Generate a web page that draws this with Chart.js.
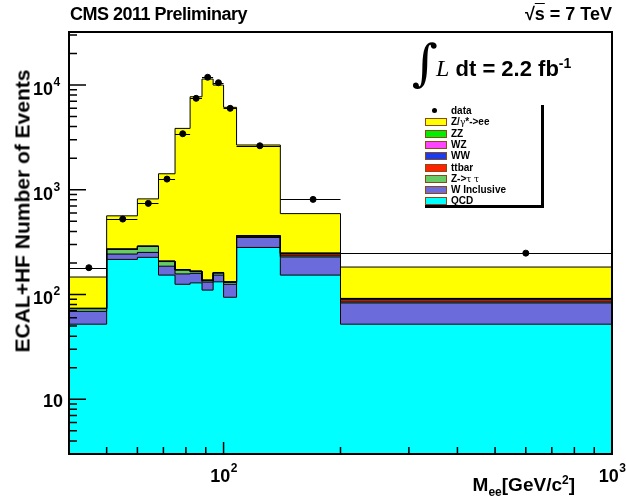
<!DOCTYPE html>
<html>
<head>
<meta charset="utf-8">
<script src="https://cdn.jsdelivr.net/npm/chart.js@4.4.0/dist/chart.umd.min.js"></script>
<style>
  body { margin: 0; background: #fff; }
  #wrap { position: relative; width: 626px; height: 500px; font-family: "Liberation Sans", Arial, Helvetica, sans-serif; font-weight: bold; color: #000; }
  #wrap canvas { position: absolute; left: 0; top: 0; }
  .txt { position: absolute; white-space: nowrap; line-height: 1; }
  #legend { position: absolute; left: 425px; top: 105px; width: 116px; height: 100px; border-right: 3px solid #000; border-bottom: 3px solid #000; background: #fff; }
  .row { position: absolute; left: 0; width: 116px; height: 11px; font-size: 10px; line-height: 11px; white-space: nowrap; }
  .sw { position: absolute; left: 0; top: 2px; width: 20px; height: 6px; border: 1px solid #8a4a14; }
  .lbl { position: absolute; left: 26px; top: 0; white-space: nowrap; }
  .gr { font-family: "DejaVu Serif", "Liberation Serif", serif; font-weight: normal; font-size: 9px; }
</style>
</head>
<body>
<div id="wrap">
  <canvas id="c" width="626" height="500"></canvas>
  <div class="txt" style="left:70px; top:5px; font-size:18px; letter-spacing:-0.5px;">CMS 2011 Preliminary</div>
  <div class="txt" style="right:14px; top:5px; font-size:18px;">&radic;<span style="text-decoration:overline">s</span> = 7 TeV</div>
  <div class="txt" style="left:22px; top:211px; font-size:21px; transform:translate(-50%,-50%) rotate(-90deg);">ECAL+HF Number of Events</div>
  <div class="txt" style="right:51px; top:474px; font-size:19px;">M<sub style="font-size:12px;">ee</sub>[GeV/c<sup style="font-size:12px;">2</sup>]</div>
  <div class="txt" style="left:412px; top:38px;">
    <span style="font-family:'DejaVu Serif','Liberation Serif',serif; font-weight:normal; font-size:50px;">&int;</span><span style="font-family:'Liberation Serif',serif; font-style:italic; font-weight:normal; font-size:24px; position:relative; top:-4px; margin-left:-2px;">L</span><span style="font-size:22px; position:relative; top:-4px;"> dt = 2.2 fb<sup style="font-size:14px;">-1</sup></span>
  </div>
  <div id="legend"></div>
</div>
<script>
// bin edges in GeV (M_ee)
const binEdges = [40, 50, 60, 68, 75, 82, 88, 94, 100, 108, 140, 200, 1000];
// observed events per bin
const dataCounts = [180, 524, 740, 1262, 3420, 7450, 11830, 10500, 5980, 2626, 808, 248];
// MC backgrounds, bottom of stack first
const qcd = [52, 216, 226, 153, 125, 129, 110, 132, 94, 281, 153, 52];
const wInclusive = [17, 27, 26, 33, 32, 30, 21, 21, 31, 69, 75, 31];
const zTauTau = [4, 26, 35, 20, 14, 6, 4, 7, 5, 5, 6, 2];
const ttbar = [0.4, 1, 1, 1, 1, 1, 1, 1, 1, 6, 10, 4];
const ww = [0.2, 0.5, 0.5, 0.4, 0.4, 0.4, 0.4, 0.4, 0.4, 2, 3, 2];
const wz = [0.05, 0.2, 0.2, 0.2, 0.2, 0.3, 0.4, 0.3, 0.2, 0.5, 0.6, 0.4];
const zz = [0.05, 0.2, 0.2, 0.2, 0.3, 0.4, 0.5, 0.4, 0.3, 0.5, 0.5, 0.3];
const zee = [73, 292, 528, 1211, 3673, 7543, 11243, 9808, 5978, 2307, 343, 91];

// axis tick labels
const xTickValues = [100, 1000];
const xTickExp = ['2', '3'];
const yTickValues = [10, 100, 1000, 10000];
const yTickExp = ['', '2', '3', '4'];

const stack = [
    { name: 'QCD', values: qcd, color: '#00ffff' },
    { name: 'W Inclusive', values: wInclusive, color: '#6b6bdb' },
    { name: 'Z->\u03c4 \u03c4', values: zTauTau, color: '#66cc66' },
    { name: 'ttbar', values: ttbar, color: '#ff2200' },
    { name: 'WW', values: ww, color: '#1a3cf0' },
    { name: 'WZ', values: wz, color: '#ff44ff' },
    { name: 'ZZ', values: zz, color: '#00ee00' },
    { name: 'Z/\u03b3*->ee', values: zee, color: '#ffff00' }
];

// cumulative sums -> stepped outlines (one extra point closes the last bin)
const running = new Array(dataCounts.length).fill(0);
const stackSets = stack.map((s, k) => {
    const pts = [];
    s.values.forEach((v, i) => {
        running[i] += v;
        pts.push({ x: binEdges[i], y: running[i] });
    });
    pts.push({ x: binEdges[binEdges.length - 1], y: running[running.length - 1] });
    return {
        label: s.name,
        data: pts,
        stepped: 'before',
        borderColor: '#000',
        borderWidth: 1,
        backgroundColor: s.color,
        pointRadius: 0,
        fill: k === 0 ? 'start' : '-1'
    };
});

const dataPoints = dataCounts.map((v, i) => ({ x: (binEdges[i] + binEdges[i + 1]) / 2, y: v }));

const FONT = '"Liberation Sans", Arial, Helvetica, sans-serif';

const rootAxes = {
    id: 'rootAxes',
    afterDatasetsDraw(chart) {
        const { ctx, chartArea: a, scales: { x, y } } = chart;
        ctx.save();

        // horizontal bin-width bars on the data
        ctx.strokeStyle = '#000';
        ctx.lineWidth = 1;
        dataCounts.forEach((v, i) => {
            const py = Math.round(y.getPixelForValue(v)) + 0.5;
            ctx.beginPath();
            ctx.moveTo(x.getPixelForValue(binEdges[i]), py);
            ctx.lineTo(x.getPixelForValue(binEdges[i + 1]), py);
            ctx.stroke();
        });

        // inward ticks
        ctx.lineWidth = 1.5;
        ctx.beginPath();
        for (let e = 0; e <= 4; e++) {
            for (let k = 1; k <= 9; k++) {
                const v = k * Math.pow(10, e);
                if (v < y.min || v > y.max) continue;
                const py = y.getPixelForValue(v);
                ctx.moveTo(a.left, py);
                ctx.lineTo(a.left + (k === 1 ? 17 : 8), py);
            }
        }
        for (let e = 1; e <= 3; e++) {
            for (let k = 1; k <= 9; k++) {
                const v = k * Math.pow(10, e);
                if (v < x.min || v > x.max) continue;
                const px = x.getPixelForValue(v);
                ctx.moveTo(px, a.bottom);
                ctx.lineTo(px, a.bottom - (k === 1 ? 12 : 7));
            }
        }
        ctx.stroke();

        // frame
        ctx.lineWidth = 2;
        ctx.strokeRect(a.left, a.top, a.right - a.left, a.bottom - a.top);

        // tick labels
        ctx.fillStyle = '#000';
        ctx.textBaseline = 'alphabetic';
        yTickValues.forEach((v, i) => {
            const py = y.getPixelForValue(v);
            ctx.font = 'bold 18px ' + FONT;
            if (yTickExp[i] === '') {
                ctx.textAlign = 'right';
                ctx.fillText('10', a.left - 6, py + 7.5);
            } else {
                ctx.textAlign = 'right';
                ctx.fillText('10', a.left - 16, py + 10);
                ctx.font = 'bold 12px ' + FONT;
                ctx.textAlign = 'left';
                ctx.fillText(yTickExp[i], a.left - 15.5, py + 1);
            }
        });
        xTickValues.forEach((v, i) => {
            const px = x.getPixelForValue(v);
            ctx.font = 'bold 18px ' + FONT;
            const wb = ctx.measureText('10').width;
            ctx.font = 'bold 12px ' + FONT;
            const ws = ctx.measureText(xTickExp[i]).width;
            const x0 = px - (wb + ws) / 2;
            ctx.textAlign = 'left';
            ctx.font = 'bold 18px ' + FONT;
            ctx.fillText('10', x0, a.bottom + 28);
            ctx.font = 'bold 12px ' + FONT;
            ctx.fillText(xTickExp[i], x0 + wb + 0.5, a.bottom + 18);
        });
        ctx.restore();
    }
};

new Chart(document.getElementById('c'), {
    type: 'line',
    data: {
        datasets: [{
            type: 'scatter',
            label: 'data',
            data: dataPoints,
            pointRadius: 3,
            pointBackgroundColor: '#000',
            pointBorderColor: '#000',
            showLine: false
        }].concat(stackSets)
    },
    options: {
        responsive: false,
        animation: false,
        layout: { padding: { left: 69, right: 14, top: 32, bottom: 46 } },
        scales: {
            x: { type: 'logarithmic', min: 40, max: 1000, display: false },
            y: { type: 'logarithmic', min: 3, max: 32000, display: false }
        },
        plugins: {
            legend: { display: false },
            tooltip: { enabled: false },
            filler: { drawTime: 'beforeDatasetsDraw' }
        }
    },
    plugins: [rootAxes]
});

// legend box, top entry first like the ROOT TLegend
const legend = document.getElementById('legend');
const entries = [{ name: 'data', color: null }].concat(stack.slice().reverse());
entries.forEach((en, i) => {
    const row = document.createElement('div');
    row.className = 'row';
    row.style.top = (i * 11.3) + 'px';
    let mark;
    if (en.color) {
        mark = '<div class="sw" style="background:' + en.color + '"></div>';
    } else {
        mark = '<div style="position:absolute;left:7px;top:3px;width:5px;height:5px;border-radius:50%;background:#000"></div>';
    }
    const label = en.name.replace(/([\u03b3\u03c4])/g, '<span class="gr">$1</span>');
    row.innerHTML = mark + '<div class="lbl">' + label + '</div>';
    legend.appendChild(row);
});
</script>
</body>
</html>
